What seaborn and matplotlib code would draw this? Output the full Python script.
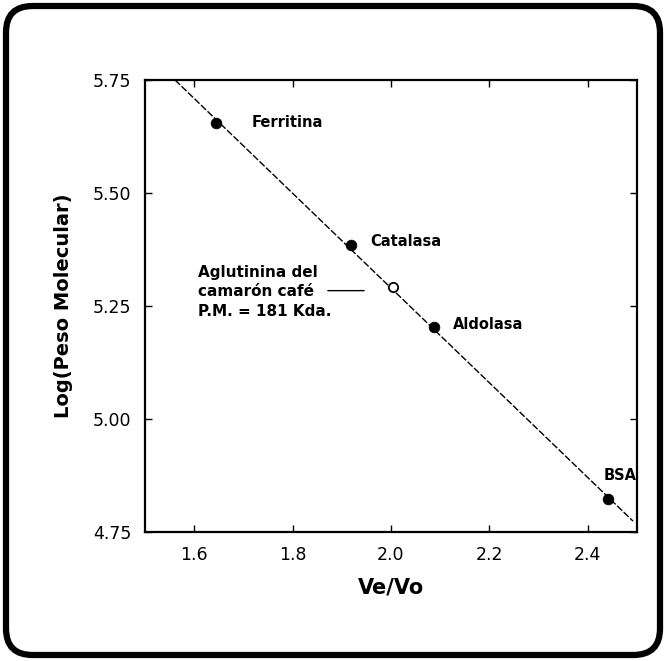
import matplotlib
matplotlib.use("Agg")
import matplotlib.pyplot as plt
from matplotlib.patches import FancyBboxPatch
import seaborn as sns
import pandas as pd

# ---- data ----
proteins = ["Ferritina", "Catalasa", "Aldolasa", "BSA"]
ve_vo = [1.644, 1.919, 2.087, 2.441]
log_pm = [5.655, 5.386, 5.203, 4.823]

sample_ve_vo = [2.004]
sample_log_pm = [5.291]

fit_x = [1.561, 2.492]
fit_y = [5.750, 4.774]

x_ticks = [1.6, 1.8, 2.0, 2.2, 2.4]
x_tick_labels = ["1.6", "1.8", "2.0", "2.2", "2.4"]
y_ticks = [4.75, 5.00, 5.25, 5.50, 5.75]
y_tick_labels = ["4.75", "5.00", "5.25", "5.50", "5.75"]

sample_text = "Aglutinina del\ncamarón café\nP.M. = 181 Kda."

sns.set_style("ticks")
plt.rcParams["font.family"] = ["DejaVu Sans"]

fig = plt.figure(figsize=(6.67, 6.61), dpi=100)
ax = fig.add_axes([145 / 667, 1 - 532 / 661, 492 / 667, 452 / 661])

std_df = pd.DataFrame({"x": ve_vo, "y": log_pm, "name": proteins})
fit_df = pd.DataFrame({"x": fit_x, "y": fit_y})
smp_df = pd.DataFrame({"x": sample_ve_vo, "y": sample_log_pm})

sns.lineplot(data=fit_df, x="x", y="y", ax=ax, color="black", lw=1.0,
             linestyle=(0, (5, 1.5)), zorder=2)
sns.scatterplot(data=std_df, x="x", y="y", ax=ax, color="black", s=60,
                edgecolor="black", linewidth=0.5, zorder=3)
sns.scatterplot(data=smp_df, x="x", y="y", ax=ax, facecolor="white", s=45,
                edgecolor="black", linewidth=1.3, zorder=3)

# protein labels
label_offsets = {"Ferritina": (0.073, 0.0), "Catalasa": (0.038, 0.006),
                 "Aldolasa": (0.039, 0.006), "BSA": (-0.008, 0.051)}
for name, xv, yv in zip(proteins, ve_vo, log_pm):
    dx, dy = label_offsets[name]
    ax.text(xv + dx, yv + dy, name, fontsize=10.5, fontweight="bold",
            ha="left", va="center", color="black")

ax.text(1.608, 5.281, sample_text, fontsize=11, fontweight="bold",
        ha="left", va="center", linespacing=1.35, color="black")
ax.annotate("", xy=(1.951, 5.284), xytext=(1.866, 5.284),
            arrowprops=dict(arrowstyle="-", lw=1.0, color="black"))

ax.set_xlim(1.5, 2.5)
ax.set_ylim(4.75, 5.75)
ax.set_xticks(x_ticks)
ax.set_xticklabels(x_tick_labels)
ax.set_yticks(y_ticks)
ax.set_yticklabels(y_tick_labels)
ax.tick_params(direction="in", length=5, width=1, top=True, right=True,
               labelsize=12.5, pad=10, colors="black")
for sp in ax.spines.values():
    sp.set_linewidth(1.6)
    sp.set_color("black")

ax.set_xlabel("Ve/Vo", fontsize=15, fontweight="bold", labelpad=10,
              color="black")
ax.set_ylabel("Log(Peso Molecular)", fontsize=14, fontweight="bold",
              labelpad=14, color="black")

frame = FancyBboxPatch((6 / 667, 6 / 661), 654 / 667, 649 / 661,
                       boxstyle="round,pad=0,rounding_size=0.04",
                       transform=fig.transFigure, fill=False,
                       edgecolor="black", linewidth=4.5)
fig.patches.append(frame)

fig.savefig("out.png", dpi=100)
